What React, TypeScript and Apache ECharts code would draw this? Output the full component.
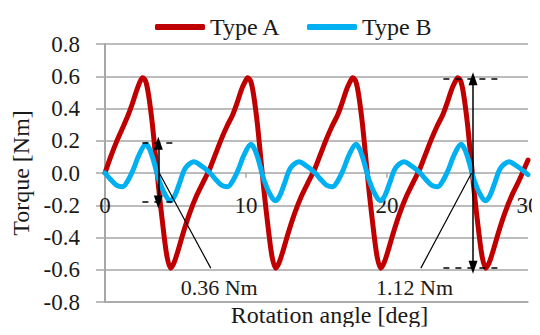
import React, { useEffect, useRef } from "react";
import * as echarts from "echarts";

const SERIES_NAMES = ["Type A", "Type B"];
const SERIES_COLORS = ["#C00000", "#00B0F0"];
const X_AXIS_NAME = "Rotation angle [deg]";
const Y_AXIS_NAME = "Torque [Nm]";
const X_MIN = 0;
const X_MAX = 30;
const X_STEP = 10;
const Y_MIN = -0.8;
const Y_MAX = 0.8;
const Y_STEP = 0.2;

// Type A torque [Nm] vs rotation angle [deg]
const typeA: [number, number][] = [
  [0, 0.0], [0.4, 0.1], [0.8, 0.19], [1.2, 0.27], [1.6, 0.35], [1.9, 0.42], [2.2, 0.5], [2.45, 0.56],
  [2.67, 0.59], [2.88, 0.57], [3.08, 0.49], [3.35, 0.31], [3.6, 0.09], [3.85, -0.13], [4.15, -0.36],
  [4.4, -0.52], [4.65, -0.59], [4.88, -0.56], [5.15, -0.49], [5.55, -0.37], [6.0, -0.25], [6.5, -0.14], [7.0, -0.05],
  [7.45, 0.03], [7.85, 0.12], [8.25, 0.21], [8.65, 0.29], [9.05, 0.36], [9.35, 0.43], [9.65, 0.51], [9.9, 0.56],
  [10.12, 0.59], [10.33, 0.57], [10.53, 0.49], [10.8, 0.31], [11.05, 0.09], [11.3, -0.13], [11.6, -0.36],
  [11.85, -0.52], [12.1, -0.59], [12.33, -0.56], [12.6, -0.49], [13.0, -0.37], [13.45, -0.25], [13.95, -0.14], [14.45, -0.05],
  [14.9, 0.03], [15.3, 0.12], [15.7, 0.21], [16.1, 0.29], [16.5, 0.36], [16.8, 0.43], [17.1, 0.51], [17.35, 0.56],
  [17.57, 0.59], [17.78, 0.57], [17.98, 0.49], [18.25, 0.31], [18.5, 0.09], [18.75, -0.13], [19.05, -0.36],
  [19.3, -0.52], [19.55, -0.59], [19.78, -0.56], [20.05, -0.49], [20.45, -0.37], [20.9, -0.25], [21.4, -0.14], [21.9, -0.05],
  [22.35, 0.03], [22.75, 0.12], [23.15, 0.21], [23.55, 0.29], [23.95, 0.36], [24.25, 0.43], [24.55, 0.51], [24.8, 0.56],
  [25.02, 0.59], [25.23, 0.57], [25.43, 0.49], [25.7, 0.31], [25.95, 0.09], [26.2, -0.13], [26.5, -0.36],
  [26.75, -0.52], [27.0, -0.59], [27.23, -0.56], [27.5, -0.49], [27.9, -0.37], [28.35, -0.25], [28.85, -0.14], [29.35, -0.05],
  [29.8, 0.04], [30.0, 0.08],
];

// Type B torque [Nm] vs rotation angle [deg]
const typeB: [number, number][] = [
  [0, 0.0], [0.4, -0.04], [0.8, -0.075], [1.25, -0.085], [1.6, -0.05], [2.0, 0.02], [2.4, 0.11], [2.9, 0.178],
  [3.15, 0.15], [3.4, 0.09], [3.85, -0.05], [4.3, -0.14], [4.65, -0.172], [4.95, -0.14], [5.3, -0.06], [5.7, 0.03],
  [6.3, 0.07], [6.9, 0.04],
  [7.45, 0.0], [7.85, -0.04], [8.25, -0.075], [8.7, -0.085], [9.05, -0.05], [9.45, 0.02], [9.85, 0.11], [10.35, 0.178],
  [10.6, 0.15], [10.85, 0.09], [11.3, -0.05], [11.75, -0.14], [12.1, -0.172], [12.4, -0.14], [12.75, -0.06], [13.15, 0.03],
  [13.75, 0.07], [14.35, 0.04],
  [14.9, 0.0], [15.3, -0.04], [15.7, -0.075], [16.15, -0.085], [16.5, -0.05], [16.9, 0.02], [17.3, 0.11], [17.8, 0.178],
  [18.05, 0.15], [18.3, 0.09], [18.75, -0.05], [19.2, -0.14], [19.55, -0.172], [19.85, -0.14], [20.2, -0.06], [20.6, 0.03],
  [21.2, 0.07], [21.8, 0.04],
  [22.35, 0.0], [22.75, -0.04], [23.15, -0.075], [23.6, -0.085], [23.95, -0.05], [24.35, 0.02], [24.75, 0.11], [25.25, 0.178],
  [25.5, 0.15], [25.75, 0.09], [26.2, -0.05], [26.65, -0.14], [27.0, -0.172], [27.3, -0.14], [27.65, -0.06], [28.05, 0.03],
  [28.65, 0.07], [29.25, 0.04], [30.0, -0.01],
];

// Peak-to-peak annotations (data coordinates)
const SMALL_SPAN = {
  x: 3.78, top: 0.185, bottom: -0.18, dashFrom: 2.65, dashTo: 4.85,
  leaderFrom: [3.85, 0.0], leaderTo: [7.5, -0.59], labelAt: [8.1, -0.71], text: "0.36 Nm",
};
const LARGE_SPAN = {
  x: 26.1, top: 0.585, bottom: -0.585, dashFrom: 24.0, dashTo: 28.15,
  leaderFrom: [26.0, 0.0], leaderTo: [22.4, -0.59], labelAt: [21.95, -0.71], text: "1.12 Nm",
};
// small tick marks on the zero line
const ZERO_TICKS = [10, 20];

const FONT = "'Liberation Serif', 'DejaVu Serif', serif";
const GRID_COLOR = "#a6a6a6";
const TEXT_COLOR = "#1a1a1a";

function spanLines(s: typeof SMALL_SPAN) {
  const dash = { type: [6, 6] as any, width: 1.5, color: "#000" };
  const arrow = { symbol: "triangle", symbolSize: [9, 13] };
  return [
    [
      { coord: [s.dashFrom, s.top], symbol: "none", lineStyle: dash },
      { coord: [s.dashTo, s.top], symbol: "none" },
    ],
    [
      { coord: [s.dashFrom, s.bottom], symbol: "none", lineStyle: dash },
      { coord: [s.dashTo, s.bottom], symbol: "none" },
    ],
    [
      { coord: [s.x, s.top], ...arrow, lineStyle: { type: "solid", width: 1.5, color: "#000" } },
      { coord: [s.x, s.bottom], ...arrow },
    ],
    [
      { coord: s.leaderFrom, symbol: "none", lineStyle: { type: "solid", width: 1.2, color: "#000" } },
      { coord: s.leaderTo, symbol: "none" },
    ],
  ];
}

export default function App() {
  const ref = useRef<HTMLDivElement>(null);
  useEffect(() => {
    if (!ref.current) return;
    const chart = echarts.init(ref.current, undefined, { renderer: "svg" });
    chart.setOption({
      animation: false,
      textStyle: { fontFamily: FONT },
      legend: {
        data: SERIES_NAMES,
        left: 150,
        top: 10,
        itemGap: 26,
        itemWidth: 50,
        itemHeight: 6,
        icon: "roundRect",
        textStyle: { fontFamily: FONT, fontSize: 24, color: TEXT_COLOR },
      },
      grid: { left: 105, right: 12, top: 44, bottom: 33, containLabel: false, outerBoundsMode: "none" },
      xAxis: {
        type: "value",
        position: "bottom",
        min: X_MIN,
        max: X_MAX,
        interval: X_STEP,
        name: X_AXIS_NAME,
        nameLocation: "middle",
        nameGap: 1,
        nameMoveOverlap: false,
        nameTextStyle: { fontFamily: FONT, fontSize: 24, color: TEXT_COLOR, padding: [0, 0, 0, 26] },
        axisLine: { show: true, onZero: false, lineStyle: { color: GRID_COLOR, width: 1.5 } },
        axisTick: { show: false },
        axisLabel: { fontFamily: FONT, fontSize: 23, color: TEXT_COLOR, margin: -108 },
        splitLine: { show: false },
      },
      yAxis: {
        type: "value",
        min: Y_MIN,
        max: Y_MAX,
        interval: Y_STEP,
        name: Y_AXIS_NAME,
        nameLocation: "middle",
        nameGap: 70,
        nameTextStyle: { fontFamily: FONT, fontSize: 24, color: TEXT_COLOR },
        axisLine: { show: true, onZero: false, lineStyle: { color: GRID_COLOR, width: 2 } },
        axisTick: { show: true, length: 9, lineStyle: { color: GRID_COLOR, width: 1.5 } },
        axisLabel: {
          fontFamily: FONT,
          fontSize: 23,
          color: TEXT_COLOR,
          margin: 25,
          formatter: (v: number) => (Math.abs(v) < 1e-9 ? "0.0" : v.toFixed(1)),
        },
        splitLine: { show: true, lineStyle: { color: GRID_COLOR, width: 1.5 } },
      },
      series: [
        {
          name: SERIES_NAMES[0],
          type: "line",
          data: typeA,
          smooth: 0.3,
          showSymbol: false,
          color: SERIES_COLORS[0],
          lineStyle: { width: 5, color: SERIES_COLORS[0], cap: "round", join: "round" },
          z: 2,
        },
        {
          name: SERIES_NAMES[1],
          type: "line",
          data: typeB,
          smooth: 0.3,
          showSymbol: false,
          color: SERIES_COLORS[1],
          lineStyle: { width: 5, color: SERIES_COLORS[1], cap: "round", join: "round" },
          z: 3,
        },
        {
          name: "zeroTicks",
          type: "line",
          data: [],
          z: 1,
          silent: true,
          markLine: {
            silent: true,
            animation: false,
            symbol: "none",
            label: { show: false },
            emphasis: { disabled: true },
            lineStyle: { type: "solid", color: GRID_COLOR, width: 1.5 },
            data: ZERO_TICKS.map((t) => [{ coord: [t, 0] }, { coord: [t, -0.03] }]),
          },
        },
        {
          name: "annotations",
          type: "line",
          data: [],
          z: 5,
          silent: true,
          markLine: {
            silent: true,
            animation: false,
            label: { show: false },
            emphasis: { disabled: true },
            data: [...spanLines(SMALL_SPAN), ...spanLines(LARGE_SPAN)],
          },
          markPoint: {
            silent: true,
            animation: false,
            symbol: "circle",
            symbolSize: 0,
            label: {
              show: true,
              position: "inside",
              fontFamily: FONT,
              fontSize: 22,
              color: TEXT_COLOR,
              formatter: (p: any) => p.name,
            },
            data: [
              { name: SMALL_SPAN.text, coord: SMALL_SPAN.labelAt },
              { name: LARGE_SPAN.text, coord: LARGE_SPAN.labelAt },
            ],
          },
        },
      ],
    });
    return () => chart.dispose();
  }, []);
  return <div ref={ref} style={{ width: 540, height: 335, margin: -8 }} />;
}
